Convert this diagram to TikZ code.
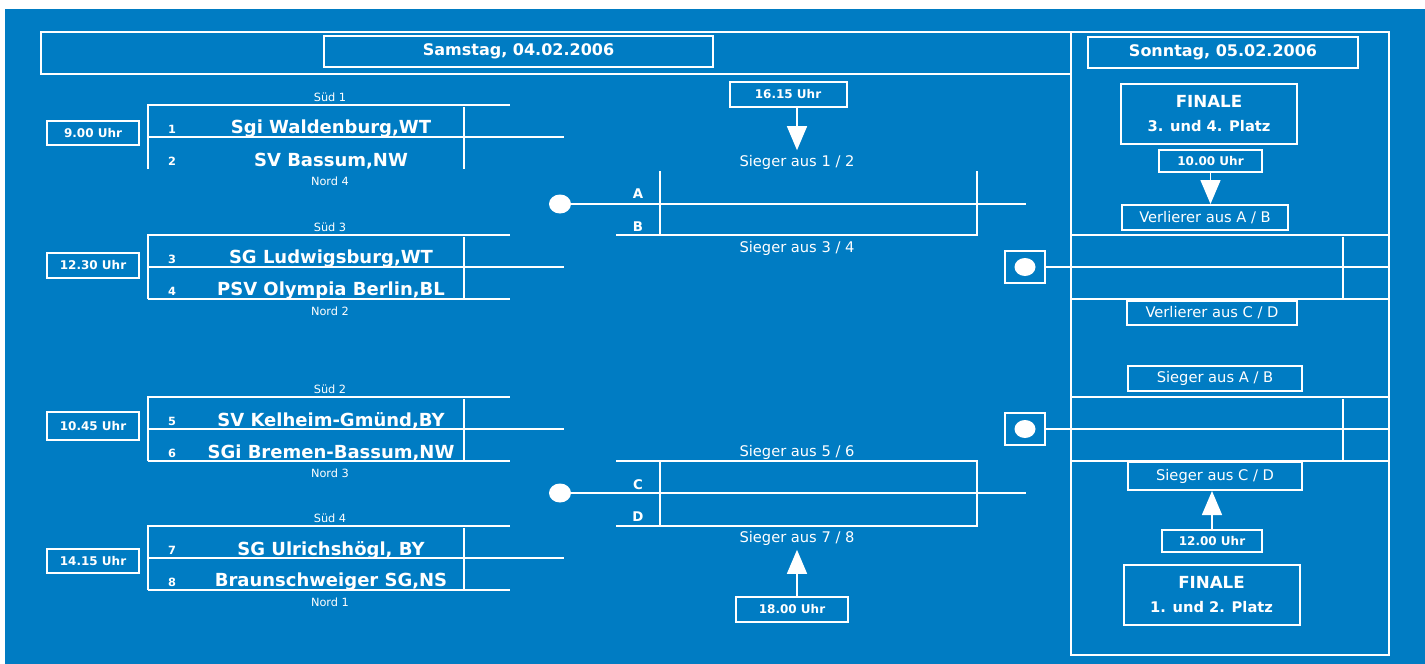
\documentclass[tikz,border=0pt]{standalone}
\usepackage{fontspec}
\setmainfont{DejaVu Sans}
\usetikzlibrary{arrows.meta,shapes.geometric}
\definecolor{feld}{RGB}{0,124,195}
\begin{document}
\begin{tikzpicture}[x=0.75pt, y=-0.75pt,
    linie/.style={draw=white, line width=1.1pt},
    kasten/.style={draw=white, line width=1.5pt, text=white, inner sep=0pt, align=center},
    zeit/.style={kasten, font=\fontsize{9}{10}\selectfont\bfseries},
    tag/.style={kasten, font=\fontsize{12}{14}\selectfont\bfseries},
    finale/.style={kasten, minimum width=176*0.75pt, minimum height=60*0.75pt, font=\fontsize{12.5}{17}\selectfont\bfseries},
    spiel/.style={kasten, minimum height=25*0.75pt, font=\fontsize{11}{12}\selectfont},
    team/.style={text=white, font=\fontsize{13.5}{15}\selectfont\bfseries},
    nr/.style={text=white, font=\fontsize{8.5}{9}\selectfont\bfseries},
    gruppe/.style={text=white, font=\fontsize{8.5}{9}\selectfont},
    sieger/.style={text=white, font=\fontsize{11}{12}\selectfont},
    buchst/.style={text=white, font=\fontsize{10}{11}\selectfont\bfseries},
    punkt/.style={ellipse, fill=white, inner sep=0pt, minimum width=22*0.75pt, minimum height=19*0.75pt},
    pfeil/.style={draw=white, line width=1.1pt, -{Triangle[width=15pt,length=18pt]}}
]
\fill[white] (0,0) rectangle (1425,664);
\fill[feld] (5,9) rectangle (1425,664);
\useasboundingbox (0,0) rectangle (1425,664);

% Rahmen
\draw[white, line width=1.5pt] (41,32) rectangle (1071,74);
\draw[white, line width=1.5pt] (1071,32) rectangle (1389,655);
\node[tag, minimum width=389*0.75pt, minimum height=31*0.75pt] (samstag) at (518.5,51.5) {Samstag, 04.02.2006};
\node[tag, minimum width=270*0.75pt, minimum height=31*0.75pt] (sonntag) at (1223,52.5) {Sonntag, 05.02.2006};

% Vorrunde
\foreach \t/\s/\n/\a/\b/\ta/\tb in {105/1/4/1/2/{Sgi Waldenburg,WT}/{SV Bassum,NW},
    235/3/2/3/4/{SG Ludwigsburg,WT}/{PSV Olympia Berlin,BL},
    397/2/3/5/6/{SV Kelheim-Gmünd,BY}/{SGi Bremen-Bassum,NW},
    526/4/1/7/8/{SG Ulrichshögl, BY}/{Braunschweiger SG,NS}} {
    \draw[linie] (148,\t+64) -- (148,\t) -- (510,\t);
    \draw[linie] (148,\t+32) -- (564,\t+32);
    \draw[linie] (464,\t+2) -- (464,\t+64);
    \ifnum\t>200 \draw[linie] (148,\t+64) -- (510,\t+64); \fi
    \node[gruppe] (sued\s) at (330,\t-8) {Süd \s};
    \node[gruppe] (nord\n) at (330,\t+76) {Nord \n};
    \node[nr] (nr\a) at (172,\t+24) {\a};
    \node[nr] (nr\b) at (172,\t+56) {\b};
    \node[team] (team\a) at (331,\t+24) {\ta};
    \node[team] (team\b) at (331,\t+56) {\tb};
}
\foreach \y/\h/\z [count=\i] in {133/24/9.00, 265.5/25/12.30, 426/28/10.45, 561/24/14.15} {
    \node[zeit, minimum width=92*0.75pt, minimum height=\h*0.75pt] (uhr\i) at (93,\y) {\z\ Uhr};
}

% Halbfinale
\node[punkt] (punktAB) at (560,204) {};
\node[punkt] (punktCD) at (560,493) {};
\draw[linie] (punktAB) -- (1026,204);
\draw[linie] (punktCD) -- (1026,493);
\draw[linie] (616,235) -- (977,235) -- (977,171);
\draw[linie] (660,171) -- (660,235);
\draw[linie] (616,461) -- (977,461) -- (977,526) -- (616,526);
\draw[linie] (660,461) -- (660,526);
\foreach \l/\y in {A/194, B/227, C/485, D/517}
    \node[buchst] (spiel\l) at (638,\y) {\l};
\node[sieger] (sieg12) at (797,162) {Sieger aus 1 / 2};
\node[sieger] (sieg34) at (797,248) {Sieger aus 3 / 4};
\node[sieger] (sieg56) at (797,452) {Sieger aus 5 / 6};
\node[sieger] (sieg78) at (797,538) {Sieger aus 7 / 8};
\node[zeit, minimum width=117*0.75pt, minimum height=25*0.75pt] (uhr1615) at (788,94.5) {16.15 Uhr};
\node[zeit, minimum width=112*0.75pt, minimum height=25*0.75pt] (uhr1800) at (792,609.5) {18.00 Uhr};
\draw[pfeil] (uhr1615.south -| sieg12) -- (sieg12.north);
\draw[pfeil] (uhr1800.north -| sieg78) -- (sieg78.south);

% Finale
\foreach \y/\k in {235/AB, 397/CD} {
    \node[kasten, minimum width=40*0.75pt, minimum height=32*0.75pt] (kreis\k) at (1025,\y+32) {};
    \node[punkt, minimum width=21*0.75pt, minimum height=18*0.75pt] at (kreis\k) {};
    \draw[linie] (1071,\y) -- (1388,\y);
    \draw[linie] (kreis\k.east) -- (1388,\y+32);
    \draw[linie] (1071,\y+64) -- (1388,\y+64);
    \draw[linie] (1343,\y+2) -- (1343,\y+64);
}
\node[finale] (platz34) at (1209,114) {FINALE\\[1pt]\fontsize{11}{12}\selectfont 3. und 4. Platz};
\node[finale] (platz12) at (1211.5,595) {FINALE\\[1pt]\fontsize{11}{12}\selectfont 1. und 2. Platz};
\node[zeit, minimum width=103*0.75pt, minimum height=22*0.75pt] (uhr1000) at (1210.5,161) {10.00 Uhr};
\node[zeit, minimum width=100*0.75pt, minimum height=22*0.75pt] (uhr1200) at (1212,541) {12.00 Uhr};
\node[spiel, minimum width=166*0.75pt] (verlAB) at (1205,217.5) {Verlierer aus A / B};
\node[spiel, minimum width=170*0.75pt, minimum height=24*0.75pt] (verlCD) at (1212,313) {Verlierer aus C / D};
\node[spiel, minimum width=174*0.75pt] (siegAB) at (1215,378.5) {Sieger aus A / B};
\node[spiel, minimum width=174*0.75pt, minimum height=28*0.75pt] (siegCD) at (1215,476) {Sieger aus C / D};
\draw[pfeil] (uhr1000.south) -- (uhr1000.south |- verlAB.north);
\draw[pfeil] (uhr1200.north) -- (uhr1200.north |- siegCD.south);
\end{tikzpicture}
\end{document}
